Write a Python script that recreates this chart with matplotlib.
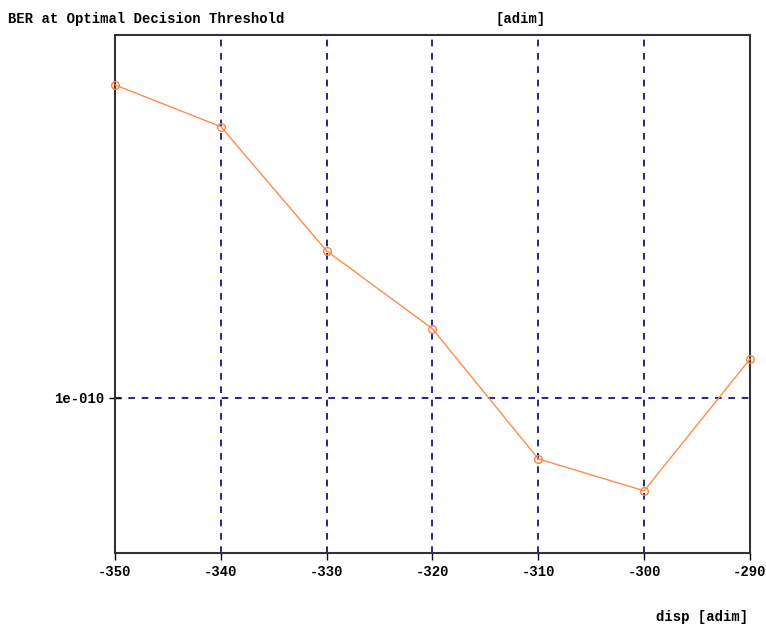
import matplotlib
matplotlib.use('Agg')
import matplotlib.pyplot as plt
from matplotlib.ticker import NullLocator

# data
disp = [-350, -340, -330, -320, -310, -300, -290]
ber = [5.31e-10, 4.25e-10, 2.19e-10, 1.445e-10, 7.22e-11, 6.09e-11, 1.23e-10]
xticks = [-350, -340, -330, -320, -310, -300, -290]
yticks = [1e-10]
ytick_labels = ['1e-010']

plt.rcParams['font.family'] = ['Liberation Mono', 'DejaVu Sans Mono']
plt.rcParams['font.size'] = 10

fig = plt.figure(figsize=(7.66, 6.24), dpi=100, facecolor='white')
ax = fig.add_axes([115 / 766, 1 - 553 / 624, 635 / 766, 518 / 624])

ax.plot(disp, ber, color='#ff8c4a', linewidth=1.0, marker='o', markersize=5.5,
        markerfacecolor='none', markeredgecolor='#ff8040', markeredgewidth=1.0,
        clip_on=False, zorder=3)

ax.set_yscale('log')
ax.set_xlim(-350, -290)
ax.set_ylim(4.37e-11, 6.93e-10)
ax.set_xticks(xticks)
ax.set_xticklabels([str(t) for t in xticks], fontweight='bold')
ax.set_yticks(yticks)
ax.set_yticklabels(ytick_labels, fontweight='bold')
ax.yaxis.set_minor_locator(NullLocator())

ax.grid(True, color='#000080', linestyle=(0, (4, 4)), linewidth=1.2)
# no grid lines on the frame edges
xt = ax.xaxis.get_major_ticks()
xt[0].gridline.set_visible(False)
xt[-1].gridline.set_visible(False)

ax.tick_params(axis='x', direction='out', length=5, width=1, pad=4)
ax.tick_params(axis='y', direction='inout', length=8, width=1, pad=4)
for s in ax.spines.values():
    s.set_linewidth(1.5)
    s.set_color('#333333')

fig.text(8 / 766, 1 - 19 / 624, 'BER at Optimal Decision Threshold',
         fontsize=10, fontweight='bold', va='center', ha='left')
fig.text(521 / 766, 1 - 19 / 624, '[adim]',
         fontsize=10, fontweight='bold', va='center', ha='center')
fig.text(748 / 766, 1 - 617 / 624, 'disp [adim]',
         fontsize=10, fontweight='bold', va='center', ha='right')

fig.savefig('out.png', dpi=100)
